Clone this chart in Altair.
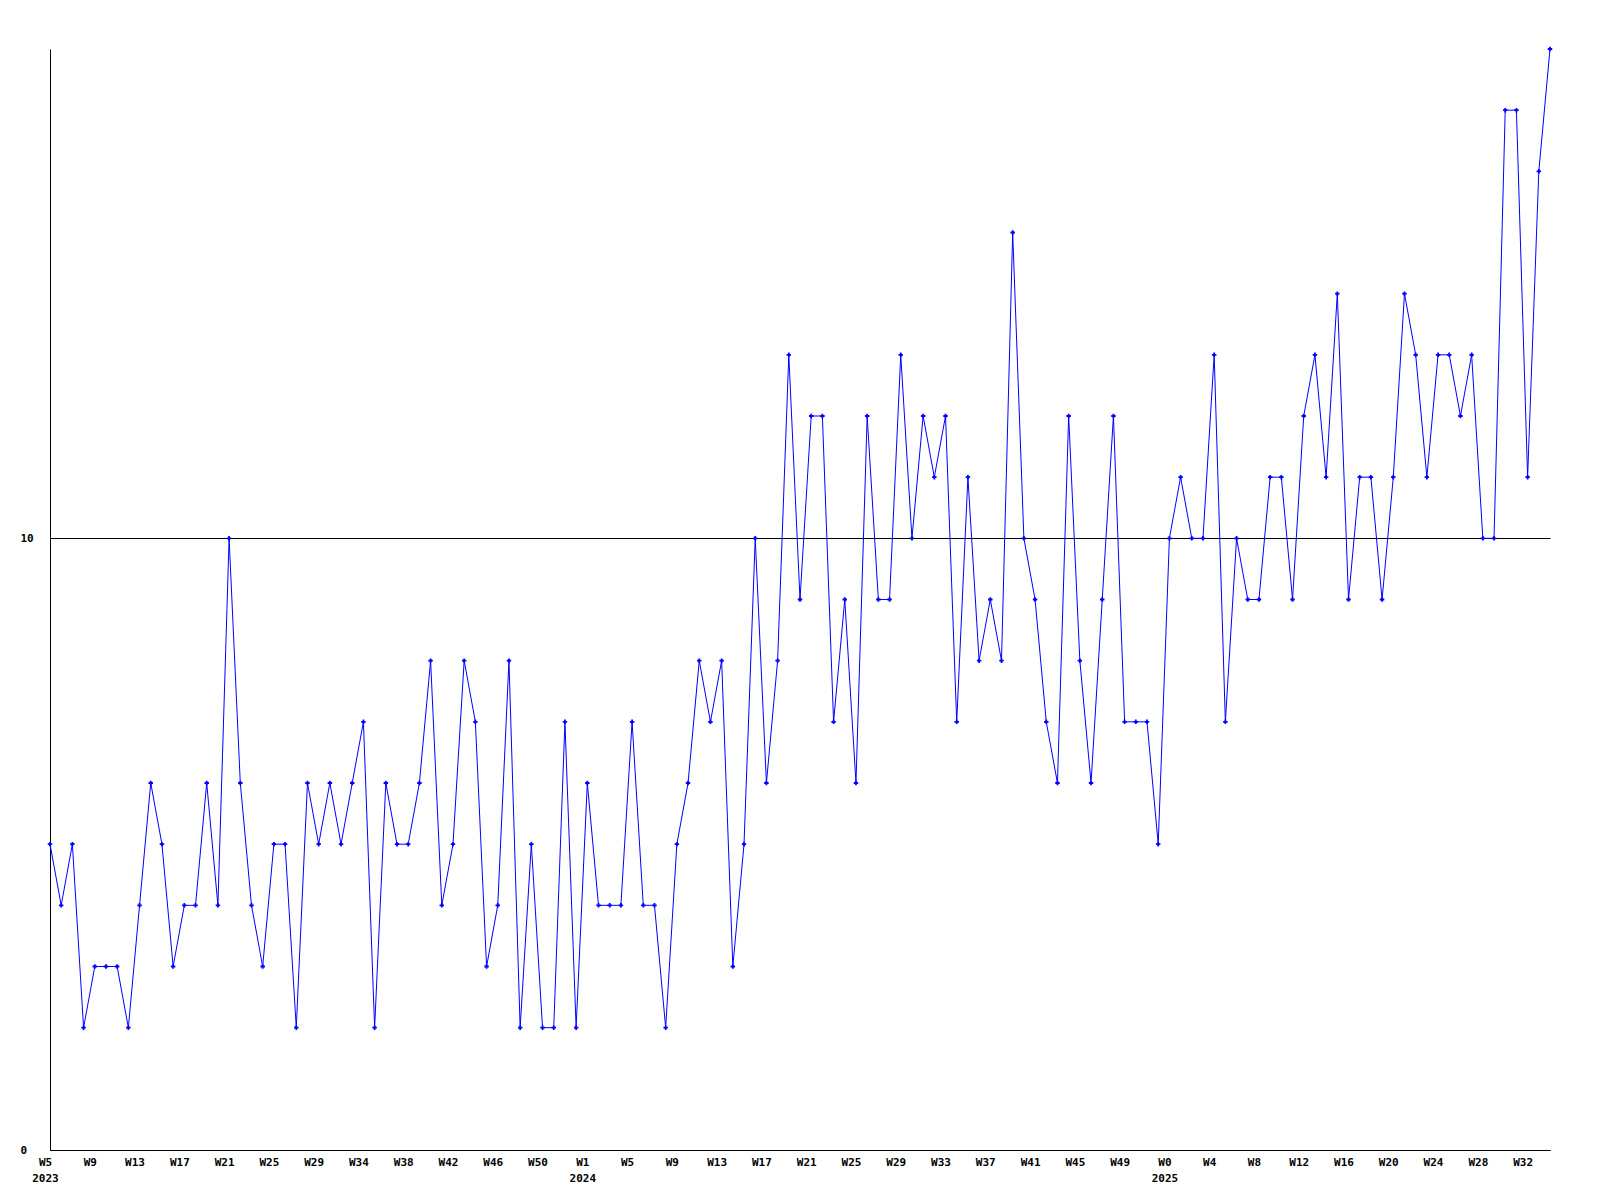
import json
import altair as alt
import pandas as pd

# Weekly values, starting at W5 2023
values = [
    5, 4, 5, 2, 3, 3, 3, 2, 4, 6, 5, 3, 4, 4, 6, 4, 10, 6,
    4, 3, 5, 5, 2, 6, 5, 6, 5, 6, 7, 2, 6, 5, 5, 6, 8,
    4, 5, 8, 7, 3, 4, 8, 2, 5, 2, 2, 7, 2, 6, 4, 4, 4,
    7, 4, 4, 2, 5, 6, 8, 7, 8, 3, 5, 10, 6, 8, 13, 9, 12,
    12, 7, 9, 6, 12, 9, 9, 13, 10, 12, 11, 12, 7, 11, 8, 9, 8,
    15, 10, 9, 7, 6, 12, 8, 6, 9, 12, 7, 7, 7, 5, 10, 11,
    10, 10, 13, 7, 10, 9, 9, 11, 11, 9, 12, 13, 11, 14, 9, 11, 11,
    9, 11, 14, 13, 11, 13, 13, 12, 13, 10, 10, 17, 17, 11, 16, 18,
]

# Tick labels every 4 weeks
week_labels = [
    "W5", "W9", "W13", "W17", "W21", "W25", "W29", "W34", "W38", "W42", "W46", "W50",
    "W1", "W5", "W9", "W13", "W17", "W21", "W25", "W29", "W33", "W37", "W41", "W45", "W49",
    "W0", "W4", "W8", "W12", "W16", "W20", "W24", "W28", "W32",
]
year_labels = {0: "2023", 12: "2024", 25: "2025"}
y_tick_values = [0, 10]

tick_step = 4
tick_values = [k * tick_step for k in range(len(week_labels))]
label_arrays = []
for k, w in enumerate(week_labels):
    if k in year_labels:
        label_arrays.append([w, year_labels[k]])
    else:
        label_arrays.append([w])
label_expr = json.dumps(label_arrays) + f"[round(datum.value/{tick_step})]"

df = pd.DataFrame({"i": list(range(len(values))), "v": values})

FONT = "DejaVu Sans Mono"

x_enc = alt.X(
    "i:Q",
    scale=alt.Scale(domain=[0, len(values) - 1], nice=False, zero=False),
    axis=alt.Axis(
        values=tick_values,
        labelExpr=label_expr,
        title=None,
        ticks=False,
        tickSize=0,
        grid=False,
        domainColor="black",
        domainWidth=1,
        labelFont=FONT,
        labelFontSize=11,
        labelFontWeight="bold",
        labelColor="black",
        labelPadding=6,
        labelOffset=-5,
        labelLineHeight=16,
        labelFlush=False,
        labelOverlap=False,
    ),
)
y_enc = alt.Y(
    "v:Q",
    scale=alt.Scale(domain=[0, 18], nice=False, zero=True),
    axis=alt.Axis(
        values=y_tick_values,
        title=None,
        ticks=False,
        tickSize=0,
        grid=True,
        gridColor="black",
        gridOpacity=1,
        gridWidth=1,
        domainColor="black",
        domainWidth=1,
        labelFont=FONT,
        labelFontSize=11,
        labelFontWeight="bold",
        labelColor="black",
        labelAlign="left",
        labelBaseline="middle",
        labelPadding=30,
    ),
)

base = alt.Chart(df).encode(x=x_enc, y=y_enc)
line = base.mark_line(color="#0000FF", strokeWidth=1)
pts = base.mark_point(shape="cross", filled=True, size=20, color="#0000FF", opacity=1)

chart = (
    alt.layer(line, pts)
    .properties(
        width=1500,
        height=1101,
        autosize=alt.AutoSizeParams(type="none"),
        padding={"left": 42, "top": 41, "right": 40, "bottom": 50},
        background="white",
    )
    .configure_view(stroke=None)
)

chart.save("out.html", embed_options={"renderer": "svg", "actions": False})
